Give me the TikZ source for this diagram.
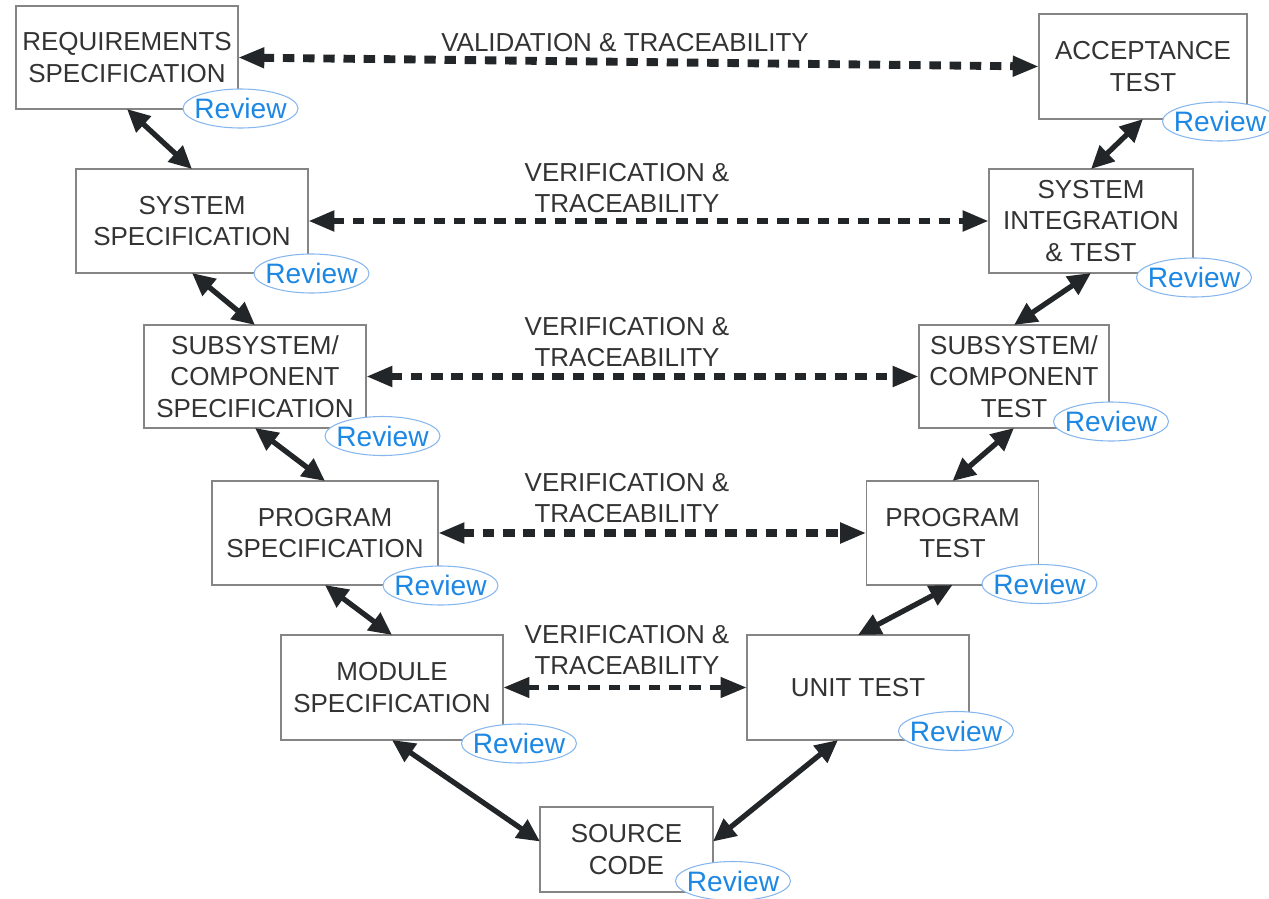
\documentclass[tikz,border=0pt]{standalone}
\usepackage{fontspec}
\setmainfont{Liberation Sans}
\usetikzlibrary{positioning,shapes.geometric,arrows.meta,calc}
\definecolor{ink}{HTML}{333333}
\definecolor{arrowgray}{HTML}{232628}
\definecolor{boxgray}{HTML}{858585}
\definecolor{revtext}{HTML}{1D87E4}
\definecolor{revline}{HTML}{86B6EE}
\newcommand{\rev}{\makebox[0pt]{Review}}

\begin{document}
\begin{tikzpicture}[x=0.02cm,y=-0.02cm,
  font=\fontsize{14.8}{18}\selectfont,text=ink,
  stage/.style={draw=boxgray,line width=0.8pt,fill=white,inner sep=0pt,outer sep=0pt,align=center},
  review/.style={ellipse,draw=revline,line width=0.6pt,fill=white,text=revtext,inner sep=0pt,
    minimum width=2.3cm,minimum height=0.78cm,font=\fontsize{16}{18}\selectfont},
  link/.style={draw=arrowgray,line width=3pt,{Triangle[length=13pt,width=12pt]}-{Triangle[length=13pt,width=12pt]}},
  trace/.style={draw=arrowgray,dash pattern=on 6.5pt off 5pt,{Triangle[length=15pt,width=11pt]}-{Triangle[length=15pt,width=11pt]}},
  tlabel/.style={align=center}]
\useasboundingbox (0,0) rectangle (1269,899);

\node[stage,minimum width=4.44cm,minimum height=2.06cm] (req) at (127,57.5) {REQUIREMENTS\\SPECIFICATION};
\node[stage,minimum width=4.64cm,minimum height=2.08cm] (sys) at (192,221) {SYSTEM\\SPECIFICATION};
\node[stage,minimum width=4.44cm,minimum height=2.06cm] (sub) at (255,376.5) {SUBSYSTEM/\\COMPONENT\\SPECIFICATION};
\node[stage,minimum width=4.52cm,minimum height=2.08cm] (prog) at (325,533) {PROGRAM\\SPECIFICATION};
\node[stage,minimum width=4.44cm,minimum height=2.1cm] (mod) at (392,687.5) {MODULE\\SPECIFICATION};
\node[stage,minimum width=3.46cm,minimum height=1.7cm] (src) at (626.5,849.5) {SOURCE\\CODE};
\node[stage,minimum width=4.44cm,minimum height=2.1cm] (unit) at (858,687.5) {UNIT TEST};
\node[stage,minimum width=3.44cm,minimum height=2.08cm] (ptest) at (952.5,533) {PROGRAM\\TEST};
\node[stage,minimum width=3.8cm,minimum height=2.06cm] (subt) at (1014,376.5) {SUBSYSTEM/\\COMPONENT\\TEST};
\node[stage,minimum width=4.08cm,minimum height=2.08cm] (sit) at (1091,221) {SYSTEM\\INTEGRATION\\\& TEST};
\node[stage,minimum width=4.16cm,minimum height=2.1cm] (acc) at (1143,66.5) {ACCEPTANCE\\TEST};

\node[tlabel] (valid) at (625,43) {VALIDATION \& TRACEABILITY};
\node[tlabel] (verA) at (627,188) {VERIFICATION \&\\TRACEABILITY};
\node[tlabel] (verB) at (627,342) {VERIFICATION \&\\TRACEABILITY};
\node[tlabel] (verC) at (627,498) {VERIFICATION \&\\TRACEABILITY};
\node[tlabel] (verD) at (627,650) {VERIFICATION \&\\TRACEABILITY};

\draw[trace,line width=4.5pt] (req.east) -- (acc.west);
\draw[trace,line width=3.8pt] (sys.east) -- (sit.west);
\draw[trace,line width=4.5pt] (sub.east) -- (subt.west);
\draw[trace,line width=4pt] (prog.east) -- (ptest.west);
\draw[trace,line width=3.4pt] (mod.east) -- (unit.west);

\draw[link] (req.south) -- (sys.north);
\draw[link] (sys.south) -- (sub.north);
\draw[link] (sub.south) -- (prog.north);
\draw[link] (prog.south) -- (mod.north);
\draw[link] (mod.south) -- ($(src.west)+(0,-8)$);
\draw[link] ($(src.east)+(0,-8)$) -- ($(unit.south)+(-20,0)$);
\draw[link] (unit.north) -- (ptest.south);
\draw[link] (ptest.north) -- (subt.south);
\draw[link] (subt.north) -- (sit.south);
\draw[link] (sit.north) -- (acc.south);

\node[review] (reqrev) at (240.5,108.5) {\rev};
\node[review] (sysrev) at (311.5,273.5) {\rev};
\node[review] (subrev) at (382.5,436) {\rev};
\node[review] (progrev) at (440.5,585.5) {\rev};
\node[review] (modrev) at (519,743.5) {\rev};
\node[review] (srcrev) at (733,881) {\rev};
\node[review] (unitrev) at (956,731) {\rev};
\node[review] (ptestrev) at (1039.5,584) {\rev};
\node[review] (subtrev) at (1111,421.5) {\rev};
\node[review] (sitrev) at (1194,277.5) {\rev};
\node[review] (accrev) at (1220,121.5) {\rev};
\end{tikzpicture}
\end{document}
